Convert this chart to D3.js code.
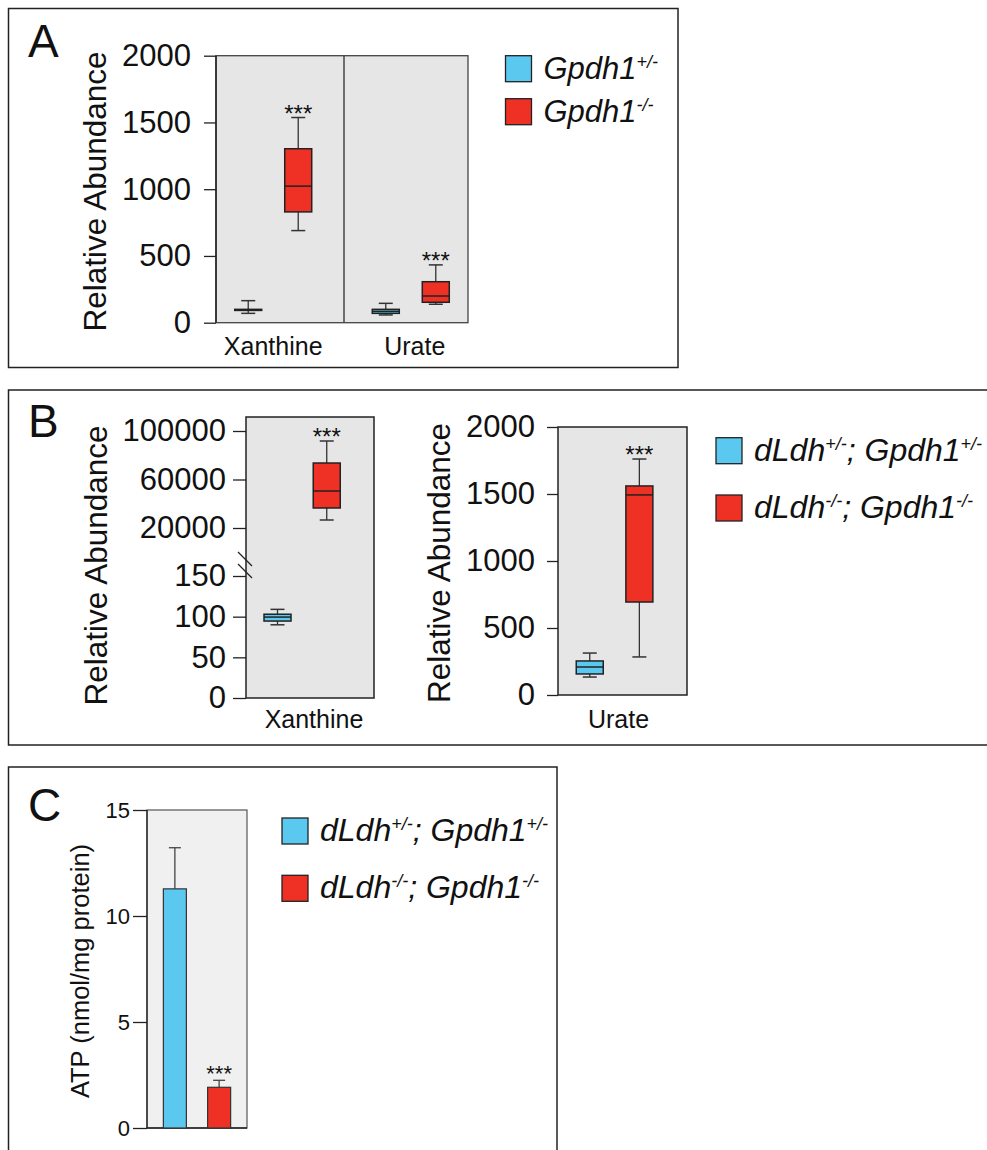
<!DOCTYPE html>
<html>
<head>
<meta charset="utf-8">
<script src="https://cdn.jsdelivr.net/npm/d3@7"></script>
<style>
  body { margin: 0; background: #fff; }
  svg text { font-family: "Liberation Sans", Arial, Helvetica, sans-serif; fill: #111; }
</style>
</head>
<body>
<svg id="chart" width="987" height="1150"></svg>
<script>
// ---- data ----
const genotypes = ["het", "ko"];

// Panel A (Gpdh1 mutants), box stats per metabolite
const aCategories = ["Xanthine", "Urate"];
const aTicks = [0, 500, 1000, 1500, 2000];
const aBoxes = [
  { cat: "Xanthine", geno: "het", min: 70, q1: 92, med: 96, q3: 100, max: 165 },
  { cat: "Xanthine", geno: "ko", min: 690, q1: 830, med: 1023, q3: 1303, max: 1537 },
  { cat: "Urate", geno: "het", min: 58, q1: 70, med: 85, q3: 100, max: 145 },
  { cat: "Urate", geno: "ko", min: 138, q1: 153, med: 200, q3: 307, max: 433 }
];
const aStars = [
  { cat: "Xanthine", geno: "ko" },
  { cat: "Urate", geno: "ko" }
];

// Panel B (dLdh; Gpdh1 double mutants)
const bXanthineBoxes = [
  { geno: "het", min: 90, q1: 94.6, med: 99.5, q3: 103, max: 109 },
  { geno: "ko", min: 26600, q1: 36500, med: 50500, q3: 73600, max: 91750 }
];
const bXanthineTicksLow = [0, 50, 100, 150];
const bXanthineTicksHigh = [20000, 60000, 100000];
const bUrateBoxes = [
  { geno: "het", min: 134, q1: 157, med: 209, q3: 254, max: 313 },
  { geno: "ko", min: 284, q1: 694, med: 1493, q3: 1560, max: 1761 }
];
const bUrateTicks = [0, 500, 1000, 1500, 2000];

// Panel C ATP bars
const atpMean = [11.28, 1.92];
const atpErr = [1.94, 0.33];
const cTicks = [0, 5, 10, 15];

// legend labels: [text, isSuperscript]
const legendA = [
  [["Gpdh1", 0], ["+/-", 1]],
  [["Gpdh1", 0], ["-/-", 1]]
];
const legendBC = [
  [["dLdh", 0], ["+/-", 1], ["; Gpdh1", 0], ["+/-", 1]],
  [["dLdh", 0], ["-/-", 1], ["; Gpdh1", 0], ["-/-", 1]]
];

// ---- styles ----
const colors = { het: "#5bc8ef", ko: "#ee3124" };
const ink = "#222";
const svg = d3.select("#chart");

// panel frames
svg.append("rect").attr("x", 8.5).attr("y", 8.5).attr("width", 669.5).attr("height", 359)
  .attr("fill", "none").attr("stroke", ink).attr("stroke-width", 1.5);
svg.append("rect").attr("x", 8.5).attr("y", 390).attr("width", 990).attr("height", 355)
  .attr("fill", "none").attr("stroke", ink).attr("stroke-width", 1.5);
svg.append("rect").attr("x", 8.5).attr("y", 767).attr("width", 548.5).attr("height", 400)
  .attr("fill", "none").attr("stroke", ink).attr("stroke-width", 1.5);

// panel letters
[["A", 57], ["B", 437], ["C", 821]].forEach(([t, y]) => {
  svg.append("text").attr("x", 28).attr("y", y).attr("font-size", 46).text(t);
});

function addAxis(x0, scale, ticks, size, pad, fontSize) {
  const ax = svg.append("g")
    .attr("transform", `translate(${x0},0)`)
    .call(d3.axisLeft(scale).tickValues(ticks).tickSize(size).tickPadding(pad).tickFormat(d3.format("d")));
  ax.select(".domain").remove();
  ax.selectAll("line").attr("stroke", ink).attr("stroke-width", 1.3);
  ax.selectAll("text").attr("font-size", fontSize).attr("fill", "#111");
  return ax;
}

function yLabel(x, y, text, size) {
  svg.append("text")
    .attr("transform", `translate(${x},${y}) rotate(-90)`)
    .attr("text-anchor", "middle")
    .attr("font-size", size)
    .text(text);
}

function drawBox(s, cx, y, boxW) {
  const g = svg.append("g");
  const capW = 14;
  g.append("line").attr("x1", cx).attr("x2", cx).attr("y1", y(s.max)).attr("y2", y(s.q3))
    .attr("stroke", "#333").attr("stroke-width", 1.3);
  g.append("line").attr("x1", cx).attr("x2", cx).attr("y1", y(s.q1)).attr("y2", y(s.min))
    .attr("stroke", "#333").attr("stroke-width", 1.3);
  [s.min, s.max].forEach(v => {
    g.append("line").attr("x1", cx - capW / 2).attr("x2", cx + capW / 2)
      .attr("y1", y(v)).attr("y2", y(v)).attr("stroke", "#333").attr("stroke-width", 1.5);
  });
  g.append("rect").attr("x", cx - boxW / 2).attr("y", y(s.q3))
    .attr("width", boxW).attr("height", Math.max(1, y(s.q1) - y(s.q3)))
    .attr("fill", colors[s.geno]).attr("stroke", ink).attr("stroke-width", 1.5);
  g.append("line").attr("x1", cx - boxW / 2).attr("x2", cx + boxW / 2)
    .attr("y1", y(s.med)).attr("y2", y(s.med)).attr("stroke", ink).attr("stroke-width", 1.5);
}

function stars(cx, yTop, size) {
  svg.append("text").attr("x", cx).attr("y", yTop).attr("text-anchor", "middle")
    .attr("font-size", size).text("***");
}

function legend(x, y0, gap, labels, fontSize) {
  labels.forEach((parts, i) => {
    const y = y0 + i * gap;
    svg.append("rect").attr("x", x).attr("y", y).attr("width", 26).attr("height", 26)
      .attr("fill", colors[genotypes[i]]).attr("stroke", ink).attr("stroke-width", 1.3);
    const t = svg.append("text").attr("x", x + 38).attr("y", y + 23)
      .attr("font-size", fontSize).attr("font-style", "italic");
    let raised = false;
    parts.forEach(([str, sup]) => {
      const ts = t.append("tspan").text(str);
      if (sup && !raised) { ts.attr("dy", -11).attr("font-size", 18); raised = true; }
      else if (sup) { ts.attr("font-size", 18); }
      else if (raised) { ts.attr("dy", 11); raised = false; }
    });
  });
}

// ================= Panel A =================
{
  const left = 216, right = 468, top = 55.7, bottom = 322.7;
  const y = d3.scaleLinear().domain([0, 2000]).range([bottom, top]);
  const xCat = d3.scalePoint().domain(aCategories).range([left, right]).padding(0.416);
  const xGeno = d3.scalePoint().domain(genotypes).range([-25, 25]);

  svg.append("rect").attr("x", left).attr("y", top).attr("width", right - left).attr("height", bottom - top)
    .attr("fill", "#e6e6e6").attr("stroke", "#444").attr("stroke-width", 1.3);
  const mid = (xCat(aCategories[0]) + xCat(aCategories[1])) / 2 + 2;
  svg.append("line").attr("x1", mid).attr("x2", mid).attr("y1", top).attr("y2", bottom)
    .attr("stroke", "#444").attr("stroke-width", 1.5);
  svg.append("line").attr("x1", left).attr("x2", left).attr("y1", top).attr("y2", bottom)
    .attr("stroke", ink).attr("stroke-width", 1.5);

  addAxis(left, y, aTicks, 12, 13, 31);
  yLabel(106, 191.5, "Relative Abundance", 31.5);

  aBoxes.forEach(s => drawBox(s, xCat(s.cat) + xGeno(s.geno), y, 27));
  aStars.forEach(st => {
    const s = aBoxes.find(b => b.cat === st.cat && b.geno === st.geno);
    stars(xCat(s.cat) + xGeno(s.geno), y(s.max) + 4, 24);
  });

  aCategories.forEach((c, i) => {
    svg.append("text").attr("x", xCat(c) + i * 4).attr("y", 355).attr("text-anchor", "middle")
      .attr("font-size", 25).text(c);
  });

  legend(505.5, 55.7, 43, legendA, 31);
}

// ================= Panel B, xanthine (broken axis) =================
{
  const left = 246, right = 374, top = 417;
  const yLow = d3.scaleLinear().domain([0, 150]).range([698, 576]);
  const yHigh = d3.scaleLinear().domain([20000, 100000]).range([528, 431]);
  const y = v => (v <= 150 ? yLow(v) : yHigh(v));
  const x = d3.scalePoint().domain(genotypes).range([left, right]).padding(0.8).align(0.4);

  svg.append("rect").attr("x", left).attr("y", top).attr("width", right - left).attr("height", yLow(0) - top)
    .attr("fill", "#e6e6e6").attr("stroke", ink).attr("stroke-width", 1.5);

  addAxis(left, yLow, bXanthineTicksLow, 13, 7, 31);
  addAxis(left, yHigh, bXanthineTicksHigh, 13, 7, 31);

  // axis break marks
  const yb = yLow(150) - 11;
  [-6, 6].forEach(d => {
    svg.append("line").attr("x1", left - 8).attr("x2", left + 6)
      .attr("y1", yb + d - 7).attr("y2", yb + d + 7)
      .attr("stroke", ink).attr("stroke-width", 1.3);
  });

  yLabel(107, 565.5, "Relative Abundance", 31.5);
  bXanthineBoxes.forEach(s => drawBox(s, x(s.geno), y, 27));
  stars(x("ko"), y(bXanthineBoxes[1].max) + 4, 24);
  svg.append("text").attr("x", (left + right) / 2 + 4).attr("y", 728).attr("text-anchor", "middle")
    .attr("font-size", 25).text("Xanthine");
}

// ================= Panel B, urate =================
{
  const left = 558, right = 687, top = 427, bottom = 695;
  const y = d3.scaleLinear().domain([0, 2000]).range([bottom, top]);
  const x = d3.scalePoint().domain(genotypes).range([left, right]).padding(0.8).align(0.4);

  svg.append("rect").attr("x", left).attr("y", top).attr("width", right - left).attr("height", bottom - top)
    .attr("fill", "#e6e6e6").attr("stroke", ink).attr("stroke-width", 1.5);
  addAxis(left, y, bUrateTicks, 11, 12, 31);
  yLabel(450, 563, "Relative Abundance", 31.5);
  bUrateBoxes.forEach(s => drawBox(s, x(s.geno), y, 27));
  stars(x("ko"), y(bUrateBoxes[1].max) + 4, 24);
  svg.append("text").attr("x", (left + right) / 2 - 4).attr("y", 728).attr("text-anchor", "middle")
    .attr("font-size", 25).text("Urate");

  legend(716, 437.7, 57.3, legendBC, 32);
}

// ================= Panel C =================
{
  const left = 147, right = 247, top = 810, bottom = 1128;
  const y = d3.scaleLinear().domain([0, 15]).range([bottom, top]);
  const x = d3.scaleBand().domain(genotypes).range([left, right]).paddingInner(0.48).paddingOuter(0.37);

  svg.append("rect").attr("x", left).attr("y", top).attr("width", right - left).attr("height", bottom - top)
    .attr("fill", "#f0f0f0").attr("stroke", "#555").attr("stroke-width", 1.2);
  svg.append("line").attr("x1", left).attr("x2", left).attr("y1", top).attr("y2", bottom)
    .attr("stroke", ink).attr("stroke-width", 1.3);
  svg.append("line").attr("x1", left).attr("x2", right).attr("y1", bottom).attr("y2", bottom)
    .attr("stroke", ink).attr("stroke-width", 1.3);

  addAxis(left, y, cTicks, 14, 3, 22);
  yLabel(89, 971, "ATP (nmol/mg protein)", 25.5);

  genotypes.forEach((gname, i) => {
    const cx = x(gname) + x.bandwidth() / 2;
    svg.append("line").attr("x1", cx).attr("x2", cx).attr("y1", y(atpMean[i])).attr("y2", y(atpMean[i] + atpErr[i]))
      .attr("stroke", "#444").attr("stroke-width", 1.3);
    svg.append("line").attr("x1", cx - 6).attr("x2", cx + 6)
      .attr("y1", y(atpMean[i] + atpErr[i])).attr("y2", y(atpMean[i] + atpErr[i]))
      .attr("stroke", "#444").attr("stroke-width", 1.3);
    svg.append("rect").attr("x", x(gname)).attr("y", y(atpMean[i]))
      .attr("width", x.bandwidth()).attr("height", y(0) - y(atpMean[i]))
      .attr("fill", colors[gname]).attr("stroke", "#333").attr("stroke-width", 1.2);
  });
  stars(x("ko") + x.bandwidth() / 2, y(atpMean[1] + atpErr[1]) + 1, 22);

  legend(282, 818, 57.3, legendBC, 32);
}
</script>
</body>
</html>
